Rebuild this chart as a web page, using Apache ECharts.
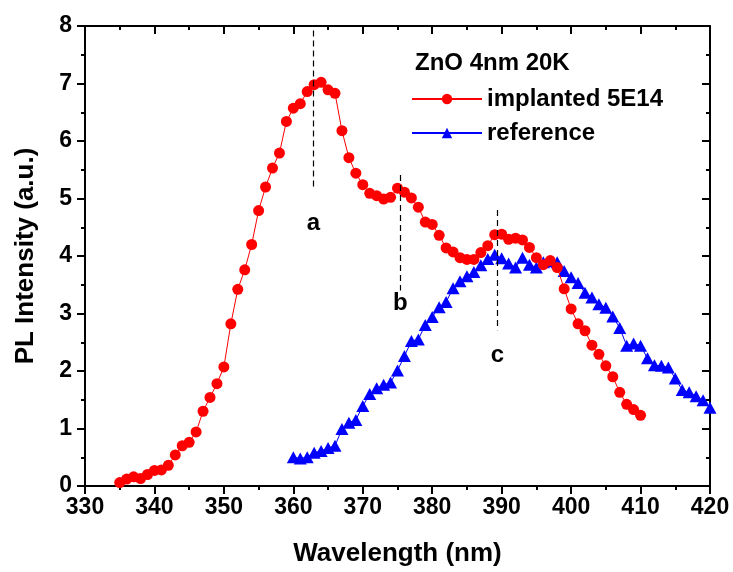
<!DOCTYPE html>
<html><head><meta charset="utf-8">
<script src="https://cdn.jsdelivr.net/npm/echarts@6/dist/echarts.min.js"></script>
<style>html,body{margin:0;padding:0;background:#fff}#c{width:733px;height:572px}</style>
</head><body><div id="c"></div>
<script>
// Data (wavelength nm, intensity a.u.)
const implantedX = [335,336,337,338,339,340,341,342,343,344,345,346,347,348,349,350,351,352,353,354,355,356,357,358,359,360,361,362,363,364,365,366,367,368,369,370,371,372,373,374,375,376,377,378,379,380,381,382,383,384,385,386,387,388,389,390,391,392,393,394,395,396,397,398,399,400,401,402,403,404,405,406,407,408,409,410];
const implantedY = [0.06,0.12,0.16,0.13,0.20,0.27,0.28,0.36,0.54,0.70,0.76,0.94,1.30,1.54,1.78,2.07,2.82,3.42,3.76,4.20,4.79,5.20,5.53,5.79,6.34,6.57,6.65,6.86,6.98,7.02,6.89,6.83,6.18,5.71,5.44,5.24,5.09,5.05,4.99,5.02,5.18,5.11,5.01,4.85,4.59,4.55,4.36,4.14,4.07,3.97,3.94,3.94,4.06,4.18,4.37,4.38,4.29,4.31,4.28,4.15,3.97,3.85,3.92,3.80,3.43,3.08,2.82,2.70,2.45,2.29,2.09,1.90,1.63,1.42,1.33,1.23];
const referenceX = [360,361,362,363,364,365,366,367,368,369,370,371,372,373,374,375,376,377,378,379,380,381,382,383,384,385,386,387,388,389,390,391,392,393,394,395,396,397,398,399,400,401,402,403,404,405,406,407,408,409,410,411,412,413,414,415,416,417,418,419,420];
const referenceY = [0.50,0.48,0.50,0.58,0.61,0.66,0.70,0.99,1.10,1.15,1.39,1.60,1.70,1.76,1.80,2.01,2.26,2.52,2.55,2.80,2.94,3.11,3.20,3.44,3.56,3.65,3.72,3.84,3.95,4.02,3.96,3.87,3.80,3.97,3.85,3.80,3.89,3.91,3.89,3.74,3.63,3.53,3.36,3.28,3.16,3.10,2.95,2.75,2.44,2.48,2.44,2.22,2.10,2.09,2.06,1.87,1.67,1.63,1.56,1.49,1.36];
// Peak annotations
const peakLabels = ['a','b','c'];
const peakX = [362.9, 375.4, 389.4];
const peakLineTop = [7.92, 5.41, 4.80];
const peakLineBottom = [5.14, 3.40, 2.71];
const peakLabelY = [4.57, 3.18, 2.27];
// Axis settings
const xMin = 330, xMax = 420, xStep = 10;
const yMin = 0, yMax = 8, yStep = 1;
const chartTitle = 'ZnO 4nm 20K';
const seriesNames = ['implanted 5E14', 'reference'];
const xTitle = 'Wavelength (nm)';
const yTitle = 'PL Intensity (a.u.)';

const FONT = 'Liberation Sans, Arial, sans-serif';
const chart = echarts.init(document.getElementById('c'), null, {renderer:'canvas'});
const zip = (xs, ys) => xs.map((x,i)=>[x, ys[i]]);

const baseAxis = {
  axisLine:{show:true, onZero:false, lineStyle:{color:'#000', width:2}},
  splitLine:{show:false},
  minorSplitLine:{show:false}
};
const option = {
  animation:false,
  backgroundColor:'#fff',
  title:{text:chartTitle, left:410, top:46, textStyle:{fontFamily:FONT, fontWeight:'bold', fontSize:24, color:'#000'}},
  legend:{
    left:406, top:82, orient:'vertical', itemWidth:70, itemHeight:13, itemGap:10,
    textStyle:{fontFamily:FONT, fontWeight:'bold', fontSize:24, color:'#000', lineHeight:23},
    data:seriesNames
  },
  grid:{left:85, right:23, top:26, bottom:86, containLabel:false},
  xAxis:[
    Object.assign({}, baseAxis, {type:'value', min:xMin, max:xMax, interval:xStep, position:'bottom',
      axisTick:{show:true, inside:false, length:8, lineStyle:{color:'#000', width:2}},
      minorTick:{show:true, splitNumber:2, length:4, lineStyle:{color:'#000', width:2}},
      axisLabel:{fontFamily:FONT, fontWeight:'bold', fontSize:23, color:'#000', margin:10},
      name:xTitle, nameLocation:'middle', nameGap:55,
      nameTextStyle:{fontFamily:FONT, fontWeight:'bold', fontSize:26, color:'#000'}}),
    Object.assign({}, baseAxis, {type:'value', min:xMin, max:xMax, interval:xStep, position:'top',
      axisTick:{show:true, inside:true, length:8, lineStyle:{color:'#000', width:2}},
      minorTick:{show:true, splitNumber:2, length:4, lineStyle:{color:'#000', width:2}},
      axisLabel:{show:false}})
  ],
  yAxis:[
    Object.assign({}, baseAxis, {type:'value', min:yMin, max:yMax, interval:yStep, position:'left',
      axisTick:{show:true, inside:false, length:8, lineStyle:{color:'#000', width:2}},
      minorTick:{show:true, splitNumber:2, length:4, lineStyle:{color:'#000', width:2}},
      axisLabel:{fontFamily:FONT, fontWeight:'bold', fontSize:23, color:'#000', margin:13},
      name:yTitle, nameLocation:'middle', nameGap:46, nameRotate:90,
      nameTextStyle:{fontFamily:FONT, fontWeight:'bold', fontSize:26, color:'#000'}}),
    Object.assign({}, baseAxis, {type:'value', min:yMin, max:yMax, interval:yStep, position:'right',
      axisTick:{show:true, inside:true, length:8, lineStyle:{color:'#000', width:2}},
      minorTick:{show:true, splitNumber:2, length:4, lineStyle:{color:'#000', width:2}},
      axisLabel:{show:false}})
  ],
  series:[
    {name:seriesNames[0], type:'line', data:zip(implantedX, implantedY), clip:true,
      symbol:'circle', symbolSize:11, showAllSymbol:true,
      itemStyle:{color:'#ff0000'}, lineStyle:{color:'#ff0000', width:1}, z:3},
    {name:seriesNames[1], type:'line', data:zip(referenceX, referenceY), clip:true,
      symbol:'triangle', symbolSize:[13,12], showAllSymbol:true,
      itemStyle:{color:'#0000ff'}, lineStyle:{color:'#0000ff', width:1}, z:2},
    {name:'peaks', type:'line', data:[], silent:true, symbol:'none',
      markLine:{silent:true, symbol:'none', animation:false,
        lineStyle:{color:'#000', width:1.2, type:[6,4]}, label:{show:false},
        data: peakX.map((x,i)=>[{coord:[x, peakLineTop[i]]},{coord:[x, peakLineBottom[i]]}])}},
    {name:'peakLabels', type:'scatter', symbolSize:1, silent:true,
      itemStyle:{opacity:0},
      data: peakX.map((x,i)=>({value:[x, peakLabelY[i]], name:peakLabels[i]})),
      label:{show:true, position:'inside', formatter:p=>p.name, opacity:1,
        fontFamily:FONT, fontWeight:'bold', fontSize:24, color:'#000'}}
  ]
};
chart.setOption(option);
</script></body></html>
